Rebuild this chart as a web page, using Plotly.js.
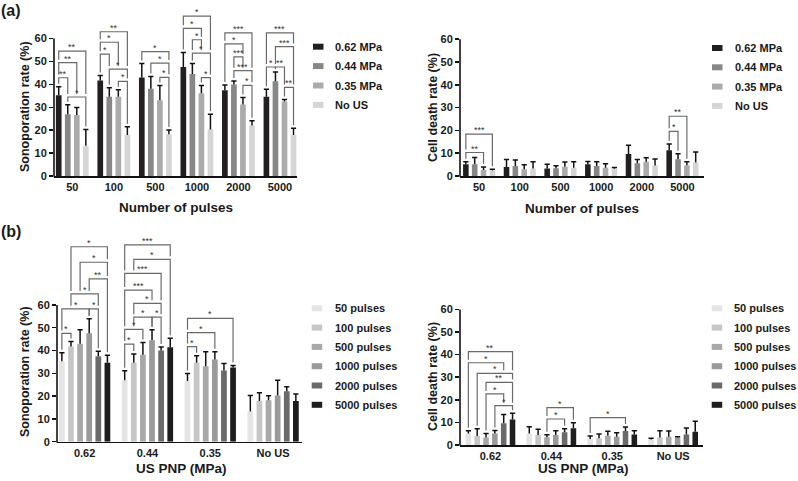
<!DOCTYPE html>
<html>
<head>
<meta charset="utf-8">
<script src="https://cdn.plot.ly/plotly-3.0.1.min.js"></script>
<style>
  html, body { margin: 0; padding: 0; background: #fff; }
  #chart { width: 798px; height: 481px; }
</style>
</head>
<body>
<div id="chart"></div>
<script>
// ---- data ----
var pulseLabels = ["50", "100", "500", "1000", "2000", "5000"];
var pulseNames = ["50 pulses", "100 pulses", "500 pulses", "1000 pulses", "2000 pulses", "5000 pulses"];
var pressureNames = ["0.62 MPa", "0.44 MPa", "0.35 MPa", "No US"];
var pnpLabels = ["0.62", "0.44", "0.35", "No US"];

// sonoporation rate (%) per pressure, indexed by number of pulses
var sono062 = [35.3, 41.7, 43.0, 47.6, 37.5, 34.6];
var sono044 = [27.0, 34.6, 38.1, 44.5, 40.0, 41.4];
var sono035 = [26.6, 34.6, 33.1, 36.1, 31.2, 32.5];
var sonoNoUS = [13.2, 17.9, 18.2, 20.3, 22.1, 17.9];
var sonoErr062 = [3.7, 2.2, 6.1, 6.3, 2.2, 3.3];
var sonoErr044 = [4.1, 3.9, 5.4, 4.6, 1.5, 4.0];
var sonoErr035 = [3.3, 3.1, 6.4, 3.4, 3.1, 0.9];
var sonoErrNoUS = [7.1, 3.6, 1.9, 6.7, 2.0, 3.0];

// cell death rate (%)
var death062 = [5.1, 4.0, 3.3, 5.1, 9.6, 11.3];
var death044 = [5.1, 4.4, 3.4, 4.4, 5.6, 7.4];
var death035 = [2.6, 3.0, 4.1, 3.6, 6.2, 4.7];
var deathNoUS = [2.4, 3.3, 3.6, 3.2, 4.6, 5.9];
var deathErr062 = [1.2, 3.2, 1.8, 1.3, 3.9, 2.7];
var deathErr044 = [3.0, 2.6, 1.1, 1.9, 1.6, 2.4];
var deathErr035 = [1.4, 1.9, 2.0, 1.8, 1.8, 1.6];
var deathErrNoUS = [0.6, 3.0, 2.6, 0.5, 2.9, 4.6];

// significance brackets: [group, from bar, to bar, height, stars]
var sonoPulseSig = [
  [0, 0, 3, 54.5, "**"], [0, 0, 2, 49.5, "**"], [0, 0, 1, 42.9, "**"], [0, 1, 3, 34.5, "*"],
  [1, 0, 3, 63.0, "**"], [1, 0, 2, 58.4, "*"], [1, 0, 1, 53.2, "*"], [1, 1, 3, 46.7, "*"], [1, 2, 3, 41.3, "*"],
  [2, 0, 3, 54.3, "*"], [2, 1, 3, 49.3, "*"], [2, 2, 3, 43.1, "*"],
  [3, 0, 3, 69.8, "*"], [3, 0, 2, 64.5, "*"], [3, 1, 2, 59.5, "*"], [3, 1, 3, 53.7, "*"], [3, 2, 3, 43.0, "*"],
  [4, 0, 3, 62.5, "***"], [4, 0, 2, 57.7, "*"], [4, 1, 2, 52.0, "***"], [4, 1, 3, 46.0, "***"], [4, 2, 3, 39.6, "*"],
  [5, 0, 3, 62.5, "***"], [5, 1, 3, 56.5, "***"], [5, 0, 1, 47.6, "*"], [5, 1, 2, 47.6, "**"], [5, 2, 3, 38.7, "**"]
];
var deathPulseSig = [
  [0, 0, 3, 18.4, "***"], [0, 0, 2, 10.3, "**"],
  [5, 0, 2, 26.2, "**"], [5, 0, 1, 19.6, "*"]
];
var sonoPnpSig = [
  [0, 1, 5, 85.5, "*"], [0, 2, 5, 78.7, "*"], [0, 3, 5, 71.4, "**"], [0, 1, 4, 64.8, "*"],
  [0, 0, 3, 58.3, "*"], [0, 3, 4, 58.3, "*"], [0, 0, 1, 47.5, "*"],
  [1, 0, 5, 86.3, "***"], [1, 1, 5, 80.0, "*"], [1, 0, 4, 73.8, "***"], [1, 0, 3, 66.5, "***"],
  [1, 1, 4, 60.7, "*"], [1, 1, 3, 54.6, "*"], [1, 3, 4, 54.6, "*"], [1, 0, 2, 49.3, "*"], [1, 0, 1, 42.8, "*"],
  [2, 0, 5, 54.1, "*"], [2, 0, 3, 47.8, "*"], [2, 0, 1, 41.7, "*"]
];
var deathPnpSig = [
  [0, 0, 5, 41.3, "**"], [0, 0, 4, 36.4, "*"], [0, 1, 5, 31.7, "*"], [0, 2, 5, 27.7, "**"],
  [0, 2, 4, 22.6, "*"], [0, 3, 5, 17.4, "*"],
  [1, 2, 5, 16.5, "*"], [1, 2, 4, 11.5, "*"],
  [2, 0, 4, 12.1, "*"]
];

var pressureColors = ["#231f20", "#878787", "#ababab", "#d5d5d5"];
var pulseColors = ["#e4e4e4", "#c6c6c6", "#a8a8a8", "#9a9a9a", "#6a6a6a", "#1f1d1e"];

// ---- helpers ----
var W = 798, H = 481;
var BARGAP = 0.13, GROUPGAP = 0.37;
var FONT = "Arial, 'Liberation Sans', sans-serif";
function px(x) { return x / W; }
function py(y) { return 1 - y / H; }
function slot(j, n) { return -(1 - BARGAP) / 2 + (j + 0.5) * (1 - BARGAP) / n; }
function transpose(m) { return m[0].map(function (_, k) { return m.map(function (r) { return r[k]; }); }); }

var sonoByPressure = [sono062, sono044, sono035, sonoNoUS];
var sonoErrByPressure = [sonoErr062, sonoErr044, sonoErr035, sonoErrNoUS];
var deathByPressure = [death062, death044, death035, deathNoUS];
var deathErrByPressure = [deathErr062, deathErr044, deathErr035, deathErrNoUS];

var panels = [
  { id: "", xpx: [54, 297], xrange: [-0.44, 5.41], zeroPx: 176, unit: 2.29, ymax: 75,
    cats: pulseLabels, names: pressureNames, colors: pressureColors,
    means: sonoByPressure, errs: sonoErrByPressure, sig: sonoPulseSig,
    leg: { sx: 313, tx: 333, y0: 46.7, dy: 19.4 },
    xt: ["Number of pulses", 176, 207], yt: ["Sonoporation rate (%)", 25, 107] },
  { id: "2", xpx: [460, 704], xrange: [-0.47, 5.53], zeroPx: 176, unit: 2.28, ymax: 60,
    cats: pulseLabels, names: pressureNames, colors: pressureColors,
    means: deathByPressure, errs: deathErrByPressure, sig: deathPulseSig,
    leg: { sx: 712, tx: 733, y0: 48, dy: 19.3 },
    xt: ["Number of pulses", 582, 208], yt: ["Cell death rate (%)", 433, 108] },
  { id: "3", xpx: [57, 302], xrange: [-0.44, 3.46], zeroPx: 441.7, unit: 2.28, ymax: 92,
    cats: pnpLabels, names: pulseNames, colors: pulseColors,
    means: transpose(sonoByPressure), errs: transpose(sonoErrByPressure), sig: sonoPnpSig,
    leg: { sx: 311.7, tx: 333, y0: 308.3, dy: 19.3 },
    xt: ["US PNP (MPa)", 181, 468], yt: ["Sonoporation rate (%)", 25, 372] },
  { id: "4", xpx: [460, 703], xrange: [-0.5, 3.49], zeroPx: 445, unit: 2.26, ymax: 60,
    cats: pnpLabels, names: pulseNames, colors: pulseColors,
    means: transpose(deathByPressure), errs: transpose(deathErrByPressure), sig: deathPnpSig,
    leg: { sx: 711.7, tx: 732, y0: 308.3, dy: 19.3 },
    xt: ["US PNP (MPa)", 583, 468], yt: ["Cell death rate (%)", 433, 377] }
];

var data = [];
var shapes = [];
var annotations = [];
var layout = {
  width: W, height: H,
  margin: { l: 0, r: 0, t: 0, b: 0 },
  paper_bgcolor: "#fff", plot_bgcolor: "rgba(0,0,0,0)",
  barmode: "group", bargap: BARGAP, bargroupgap: GROUPGAP,
  showlegend: false,
  font: { family: FONT, color: "#1a1a1a" }
};

panels.forEach(function (p) {
  var xa = "x" + p.id, ya = "y" + p.id;
  var n = p.names.length;
  var pxPerUnit = (p.xpx[1] - p.xpx[0]) / (p.xrange[1] - p.xrange[0]);
  var cap = 2.6 / pxPerUnit;
  var gap = 3 / p.unit;

  layout["xaxis" + p.id] = {
    domain: [px(p.xpx[0]), px(p.xpx[1])], range: p.xrange, anchor: ya,
    type: "category", showline: true, linecolor: "#111", linewidth: 1.6,
    ticks: "", showgrid: false, zeroline: false, fixedrange: true,
    tickfont: { family: FONT, size: 11, weight: "bold", color: "#1a1a1a" }
  };
  layout["yaxis" + p.id] = {
    domain: [py(p.zeroPx), py(p.zeroPx - p.ymax * p.unit)], range: [0, p.ymax], anchor: xa,
    tickvals: [0, 10, 20, 30, 40, 50, 60], ticks: "outside", ticklen: 4, tickwidth: 1.5,
    tickcolor: "#111", showline: false, showgrid: false, zeroline: false, fixedrange: true,
    tickfont: { family: FONT, size: 11, weight: "bold", color: "#1a1a1a" }
  };
  // y axis line stops at 60
  shapes.push({ type: "line", xref: "paper", yref: "paper", layer: "above",
    x0: px(p.xpx[0]), x1: px(p.xpx[0]), y0: py(p.zeroPx + 0.8), y1: py(p.zeroPx - 60 * p.unit),
    line: { color: "#111", width: 1.6 } });

  for (var j = 0; j < n; j++) {
    data.push({
      type: "bar", x: p.cats, y: p.means[j], name: p.names[j],
      xaxis: xa, yaxis: ya, marker: { color: p.colors[j], line: { width: 0 } },
      hoverinfo: "skip"
    });
    // one-sided error bars (upper SD only)
    for (var i = 0; i < p.cats.length; i++) {
      var xc = i + slot(j, n), v = p.means[j][i], top = v + p.errs[j][i];
      shapes.push({ type: "path", xref: xa, yref: ya, layer: "above",
        path: "M" + xc + "," + v + "V" + top + "M" + (xc - cap) + "," + top + "H" + (xc + cap),
        line: { color: "#111", width: 1.5 } });
    }
    // legend entry
    var yc = p.leg.y0 + j * p.leg.dy;
    shapes.push({ type: "rect", xref: "paper", yref: "paper",
      x0: px(p.leg.sx), x1: px(p.leg.sx + 10.5), y0: py(yc + 3), y1: py(yc - 3),
      fillcolor: p.colors[j], line: { width: 0 } });
    annotations.push({ xref: "paper", yref: "paper", x: px(p.leg.tx), y: py(yc),
      xanchor: "left", yanchor: "middle", showarrow: false, text: p.names[j],
      font: { family: FONT, size: 11, weight: "bold", color: "#1a1a1a" } });
  }

  // significance brackets
  p.sig.forEach(function (s) {
    var g = s[0], a = s[1], b = s[2], h = s[3];
    function legEnd(pos) {
      var lo = p.means[pos][g] + p.errs[pos][g];
      p.sig.forEach(function (o) {
        if (o !== s && o[0] === g && o[3] < h && o[1] <= pos && o[2] >= pos) lo = Math.max(lo, o[3]);
      });
      return Math.min(lo + gap, h - 0.5);
    }
    var xA = g + slot(a, n), xB = g + slot(b, n);
    shapes.push({ type: "path", xref: xa, yref: ya, layer: "above",
      path: "M" + xA + "," + legEnd(a) + "V" + h + "H" + xB + "V" + legEnd(b),
      line: { color: "#6a6a6a", width: 1.2 } });
    annotations.push({ xref: xa, yref: ya, x: (xA + xB) / 2, y: h, yanchor: "bottom",
      yshift: -3, showarrow: false, text: s[4],
      font: { family: FONT, size: 9, color: "#333" } });
  });

  // axis titles
  annotations.push({ xref: "paper", yref: "paper", x: px(p.xt[1]), y: py(p.xt[2]),
    xanchor: "center", yanchor: "middle", showarrow: false, text: p.xt[0],
    font: { family: FONT, size: 13.5, weight: "bold", color: "#1a1a1a" } });
  annotations.push({ xref: "paper", yref: "paper", x: px(p.yt[1]), y: py(p.yt[2]),
    xanchor: "center", yanchor: "middle", showarrow: false, text: p.yt[0], textangle: -90,
    font: { family: FONT, size: 12.5, weight: "bold", color: "#1a1a1a" } });
});

// panel letters
annotations.push({ xref: "paper", yref: "paper", x: px(11), y: py(10), xanchor: "center", yanchor: "middle",
  showarrow: false, text: "(a)", font: { family: FONT, size: 16, weight: "bold", color: "#1a1a1a" } });
annotations.push({ xref: "paper", yref: "paper", x: px(11), y: py(231), xanchor: "center", yanchor: "middle",
  showarrow: false, text: "(b)", font: { family: FONT, size: 16, weight: "bold", color: "#1a1a1a" } });

layout.shapes = shapes;
layout.annotations = annotations;

Plotly.newPlot("chart", data, layout, { staticPlot: true, displayModeBar: false });
</script>
</body>
</html>
